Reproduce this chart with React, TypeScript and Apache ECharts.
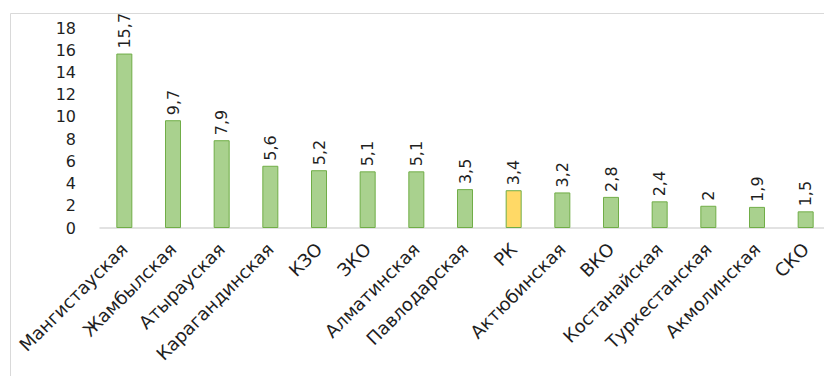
import React, { useEffect, useRef } from "react";
import * as echarts from "echarts";

const categories = [
  "Мангистауская", "Жамбылская", "Атырауская", "Карагандинская", "КЗО", "ЗКО",
  "Алматинская", "Павлодарская", "РК", "Актюбинская", "ВКО", "Костанайская",
  "Туркестанская", "Акмолинская", "СКО",
];
const values = [15.7, 9.7, 7.9, 5.6, 5.2, 5.1, 5.1, 3.5, 3.4, 3.2, 2.8, 2.4, 2, 1.9, 1.5];
const highlight = "РК";

const FONT = "DejaVu Sans";

export default function App() {
  const ref = useRef<HTMLDivElement>(null);
  useEffect(() => {
    const chart = echarts.init(ref.current!, undefined, { renderer: "svg" });
    chart.setOption({
      animation: false,
      backgroundColor: "#ffffff",
      graphic: [
        {
          type: "rect",
          left: 8, top: 11,
          shape: { x: 0, y: 0, width: 900, height: 420 },
          style: { fill: "none", stroke: "#d9d9d9", lineWidth: 1 },
          z: -1,
        },
      ],
      grid: { left: 100, top: 28, width: 730, height: 200, containLabel: false },
      xAxis: {
        type: "category",
        data: categories,
        axisLine: { lineStyle: { color: "#d9d9d9", width: 1.5 } },
        axisTick: { show: false },
        axisLabel: {
          rotate: 45, interval: 0, margin: 18,
          color: "#1f1f1f", fontSize: 18, fontFamily: FONT,
        },
      },
      yAxis: {
        type: "value", min: 0, max: 18, interval: 2,
        splitLine: { show: false },
        axisLine: { show: false },
        axisTick: { show: false },
        axisLabel: { color: "#1f1f1f", fontSize: 16, fontFamily: FONT, margin: 24 },
      },
      series: [
        {
          type: "bar",
          barWidth: 16,
          data: values.map((v, i) => ({
            value: v,
            itemStyle: {
              color: categories[i] === highlight ? "#ffd966" : "#a9d18e",
              borderColor: "#70ad47",
              borderWidth: 1,
            },
          })),
          label: {
            show: true,
            position: "top",
            rotate: 90,
            align: "left",
            verticalAlign: "middle",
            distance: 5,
            color: "#1f1f1f",
            fontSize: 16,
            fontFamily: FONT,
            formatter: (p: any) => String(p.value).replace(".", ","),
          },
        },
      ],
    });
    return () => chart.dispose();
  }, []);
  return (
    <div style={{ position: "fixed", left: 0, top: 0, width: 824, height: 376, overflow: "hidden", background: "#fff" }}>
      <div ref={ref} style={{ width: 840, height: 376 }} />
    </div>
  );
}
